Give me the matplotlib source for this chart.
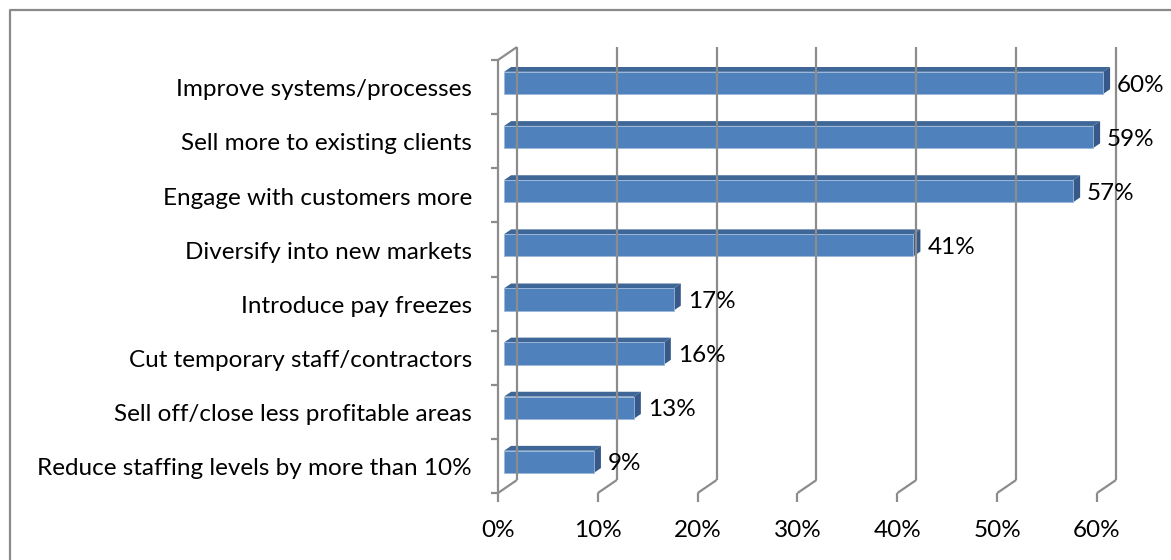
import matplotlib
matplotlib.use("Agg")
import matplotlib.pyplot as plt
from matplotlib.patches import Rectangle, Polygon
from matplotlib.lines import Line2D

# survey answers, listed top to bottom
categories = [
    "Improve systems/processes",
    "Sell more to existing clients",
    "Engage with customers more",
    "Diversify into new markets",
    "Introduce pay freezes",
    "Cut temporary staff/contractors",
    "Sell off/close less profitable areas",
    "Reduce staffing levels by more than 10%",
]
values = [60, 59, 57, 41, 17, 16, 13, 9]
x_ticks = [0, 10, 20, 30, 40, 50, 60]
x_tick_labels = ["%d%%" % t for t in x_ticks]

FRONT = "#4F81BD"
TOP = "#3E6696"
SIDE = "#36598A"
GRID = "#8C8C8C"

plt.rcParams["font.family"] = ["Lato", "DejaVu Sans"]
FS = 17.5

# fake 3d: how far the back wall sits from the front plane (data units)
DX = 1.9    # along the value axis
DY = 0.24   # along the category axis
BAR_FRONT = 0.32   # depth of the bar front face
BAR_DEPTH = 0.37
BAR_H = 0.41

fig = plt.figure(figsize=(11.71, 5.6), dpi=100)
ax = fig.add_axes([498 / 1171, 67 / 560, 599 / 1171, 433 / 560])
ax.set_xlim(0, 60)
ax.set_ylim(-0.5, 7.5)
ax.axis("off")

n = len(categories)
rows = [n - 1 - i for i in range(n)]


def shift(x, y, d):
    return x + d * DX, y + d * DY


lkw = dict(color=GRID, lw=1.6, clip_on=False, solid_capstyle="butt")

# back wall gridlines and floor diagonals
for t in x_ticks:
    bx0, by0 = shift(t, -0.5, 1)
    bx1, by1 = shift(t, 7.5, 1)
    ax.plot([bx0, bx1], [by0, by1], **lkw)
    ax.plot([t, bx0], [-0.5, by0], **lkw)
    ax.plot([t, t], [-0.5, -0.67], **lkw)

# left wall edge and category ticks
ax.plot([0, 0], [-0.5, 7.5], **lkw)
tx, ty = shift(0, 7.5, 1)
ax.plot([0, tx], [7.5, ty], **lkw)
for k in range(n + 1):
    ax.plot([-0.7, 0], [k - 0.5, k - 0.5], **lkw)

# bars
for r, v, name in zip(rows, values, categories):
    x0, y0 = shift(0, r - BAR_H / 2, BAR_FRONT)
    x1 = x0 + v
    y1 = y0 + BAR_H
    ddx, ddy = BAR_DEPTH * DX, BAR_DEPTH * DY
    ax.add_patch(Polygon([(x0, y1), (x1, y1), (x1 + ddx, y1 + ddy), (x0 + ddx, y1 + ddy)],
                         closed=True, fc=TOP, ec="none", clip_on=False))
    ax.add_patch(Polygon([(x1, y0), (x1 + ddx, y0 + ddy), (x1 + ddx, y1 + ddy), (x1, y1)],
                         closed=True, fc=SIDE, ec="none", clip_on=False))
    ax.add_patch(Rectangle((x0, y0), v, BAR_H, fc=FRONT, ec="#9DB7DA", lw=0.6, clip_on=False))
    ax.text(x1 + 1.4, (y0 + y1) / 2 - 0.04, "%d%%" % v, fontsize=FS, va="center", ha="left")
    ax.text(-2.6, r - 0.05, name, fontsize=FS, va="center", ha="right")

for t, lab in zip(x_ticks, x_tick_labels):
    ax.text(t, -1.2, lab, fontsize=FS, va="center", ha="center")

# chart area border
fig.add_artist(Line2D([10 / 1171, 10 / 1171, 1.0], [0.0, 1 - 10 / 560, 1 - 10 / 560],
                      transform=fig.transFigure, color="#8A8A8A", lw=1.6))

fig.savefig("out.png", dpi=100, facecolor="white")
